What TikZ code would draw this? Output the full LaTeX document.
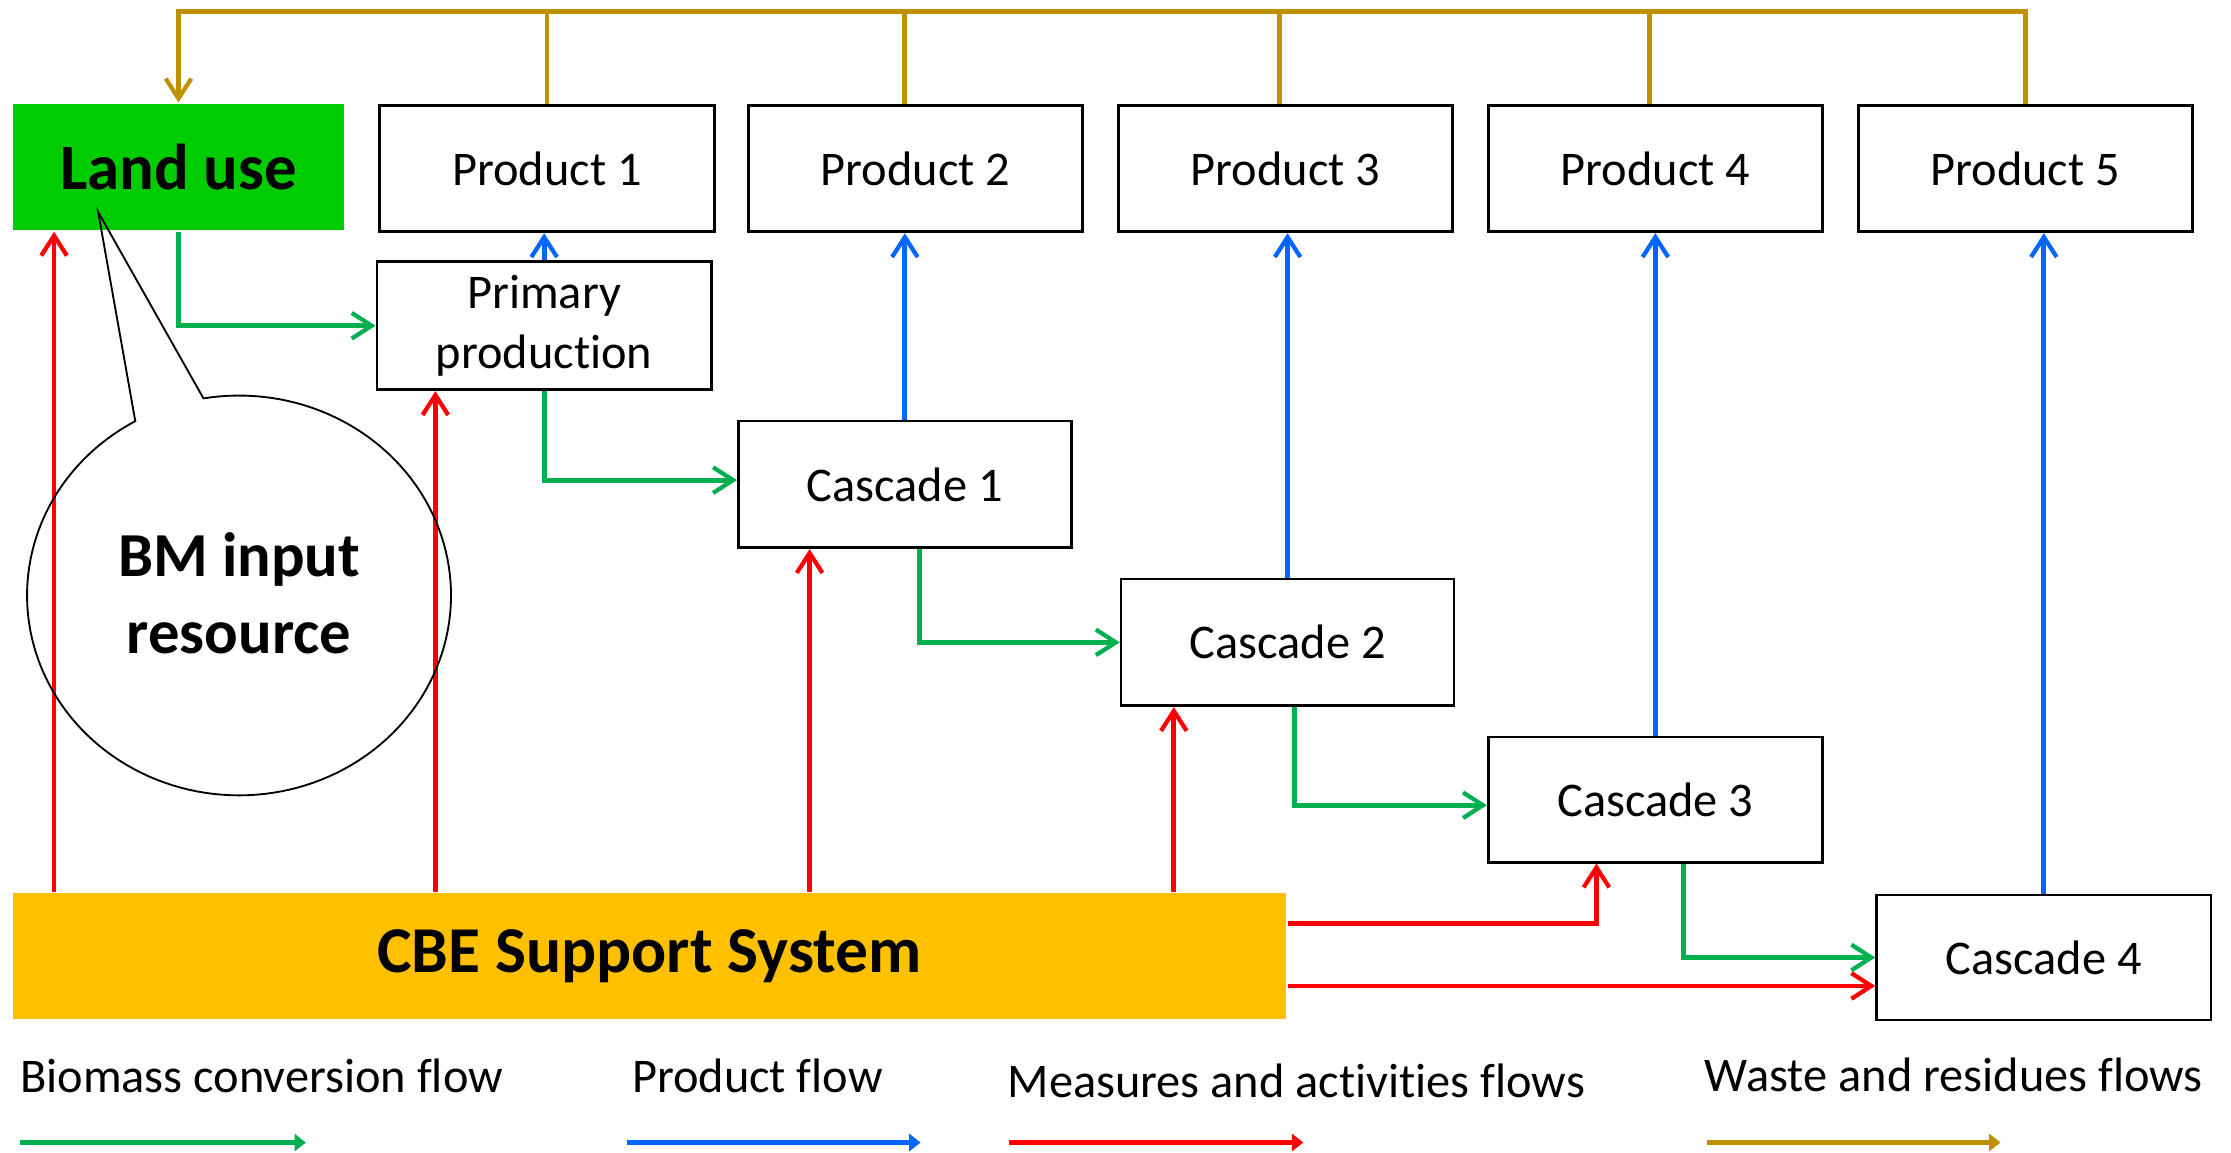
\documentclass[tikz,border=0pt]{standalone}
\usepackage{fontspec}
\setmainfont{Carlito}[Ligatures=NoCommon]
\usetikzlibrary{arrows.meta}
\definecolor{cgreen}{RGB}{0,176,80}
\definecolor{cblue}{RGB}{0,102,255}
\definecolor{cred}{RGB}{255,0,0}
\definecolor{cgold}{RGB}{191,144,0}
\definecolor{landgreen}{RGB}{0,204,0}
\definecolor{cbeorange}{RGB}{255,192,0}
\begin{document}
\begin{tikzpicture}[x=1pt,y=-1pt,
  box/.style={draw=black,line width=1.9pt,minimum width=235pt,minimum height=89pt,inner sep=0pt,anchor=north west,font=\fontsize{34}{42}\selectfont,align=center},
  arr/.style={-{Straight Barb[length=14pt,width=18pt,line width=3pt]}},
  bio/.style={draw=cgreen,line width=3.4pt},
  prod/.style={draw=cblue,line width=3.4pt},
  meas/.style={draw=cred,line width=3.4pt},
  waste/.style={draw=cgold,line width=3.4pt},
  legtext/.style={anchor=base west,inner sep=0pt,font=\fontsize{34}{42}\selectfont},
  legarr/.style={line width=4pt,-{Triangle[length=8pt,width=12pt]}}
]
\useasboundingbox (0,0) rectangle (1568,810);

% boxes
\node[box,fill=landgreen,draw=none,minimum width=233pt,font=\bfseries\fontsize{45.5}{54}\selectfont] (landuse) at (8,72) {Land use};
\node[box] (p1) at (266,73) {Product 1};
\node[box] (p2) at (525,73) {Product 2};
\node[box] (p3) at (785,73) {Product 3};
\node[box] (p4) at (1045,73) {Product 4};
\node[box] (p5) at (1305,73) {Product 5};
\node[box,minimum height=90pt] (prim) at (264,183) {Primary\\production};
\node[box,minimum width=234pt] (c1) at (518,295) {Cascade 1};
\node[box,minimum width=234pt] (c2) at (787,406) {Cascade 2};
\node[box,minimum height=88pt] (c3) at (1045,517) {Cascade 3};
\node[box,minimum height=88pt] (c4) at (1318,628) {Cascade 4};
\node[box,fill=cbeorange,draw=none,minimum width=895pt,minimum height=88pt,font=\bfseries\fontsize{46}{55}\selectfont] (cbe) at (8,627) {CBE Support System};

% waste flows
\coordinate (wl) at (124,8);
\draw[waste,arr] (p5.north) -- (p5.north |- wl) -- (landuse.north |- wl) -- (landuse.north);
\draw[waste] (p1.north) -- (p1.north |- wl);
\draw[waste] ([xshift=-8pt]p2.north) -- ([xshift=-8pt]p2.north |- wl);
\draw[waste] ([xshift=-4pt]p3.north) -- ([xshift=-4pt]p3.north |- wl);
\draw[waste] ([xshift=-4pt]p4.north) -- ([xshift=-4pt]p4.north |- wl);

% biomass conversion flows
\draw[bio,arr] (landuse.south) |- (prim.west);
\draw[bio,arr] (prim.south) |- ([yshift=3pt]c1.west);
\draw[bio,arr] ([xshift=10pt]c1.south) |- (c2.west);
\draw[bio,arr] ([xshift=5pt]c2.south) |- ([yshift=-4pt]c3.west);
\draw[bio,arr] ([xshift=20pt]c3.south) |- (c4.west);

% product flows
\draw[prod,arr] (prim.north) -- (prim.north |- p1.south);
\draw[prod,arr] (c1.north) -- (c1.north |- p2.south);
\draw[prod,arr] (c2.north) -- (c2.north |- p3.south);
\draw[prod,arr] (c3.north) -- (c3.north |- p4.south);
\draw[prod,arr] (c4.north) -- (c4.north |- p5.south);

% measures and activities flows
\coordinate (m1) at (38,0);
\coordinate (m2) at (306,0);
\coordinate (m3) at (569,0);
\coordinate (m4) at (825,0);
\coordinate (m5) at (1122,0);
\draw[meas,arr] (m1 |- cbe.north) -- (m1 |- landuse.south);
\draw[meas,arr] (m2 |- cbe.north) -- (m2 |- prim.south);
\draw[meas,arr] (m3 |- cbe.north) -- (m3 |- c1.south);
\draw[meas,arr] (m4 |- cbe.north) -- (m4 |- c2.south);
\draw[meas,arr] ([yshift=23pt]cbe.east) -| (m5 |- c3.south);
\draw[meas,arr] ([yshift=-21pt]cbe.east) coordinate (s6) -- (s6 -| c4.west);

% callout
\draw[line width=1.3pt,line join=miter] (69,149) -- (143,280) -- plot[domain=99.7:-240.7,samples=150] ({168+149*cos(\x)},{418.5-140.5*sin(\x)}) -- cycle;
\node[font=\bfseries\fontsize{44}{54}\selectfont,align=center,inner sep=0pt] (bm) at (168,417) {BM input\\resource};

% legend
\node[legtext] (lt1) at (14,768) {Biomass conversion flow};
\node[legtext] (lt2) at (444,768) {Product flow};
\node[legtext] (lt3) at (708,771) {Measures and activities flows};
\node[legtext] (lt4) at (1198,767) {Waste and residues flows};
\coordinate (la1) at (14,803);  \coordinate (lb1) at (215,803);
\coordinate (la2) at (441,803); \coordinate (lb2) at (647,803);
\coordinate (la3) at (709,803); \coordinate (lb3) at (916,803);
\coordinate (la4) at (1200,803); \coordinate (lb4) at (1406,803);
\draw[legarr,cgreen] (la1) -- (lb1);
\draw[legarr,cblue] (la2) -- (lb2);
\draw[legarr,cred] (la3) -- (lb3);
\draw[legarr,cgold] (la4) -- (lb4);
\end{tikzpicture}
\end{document}
